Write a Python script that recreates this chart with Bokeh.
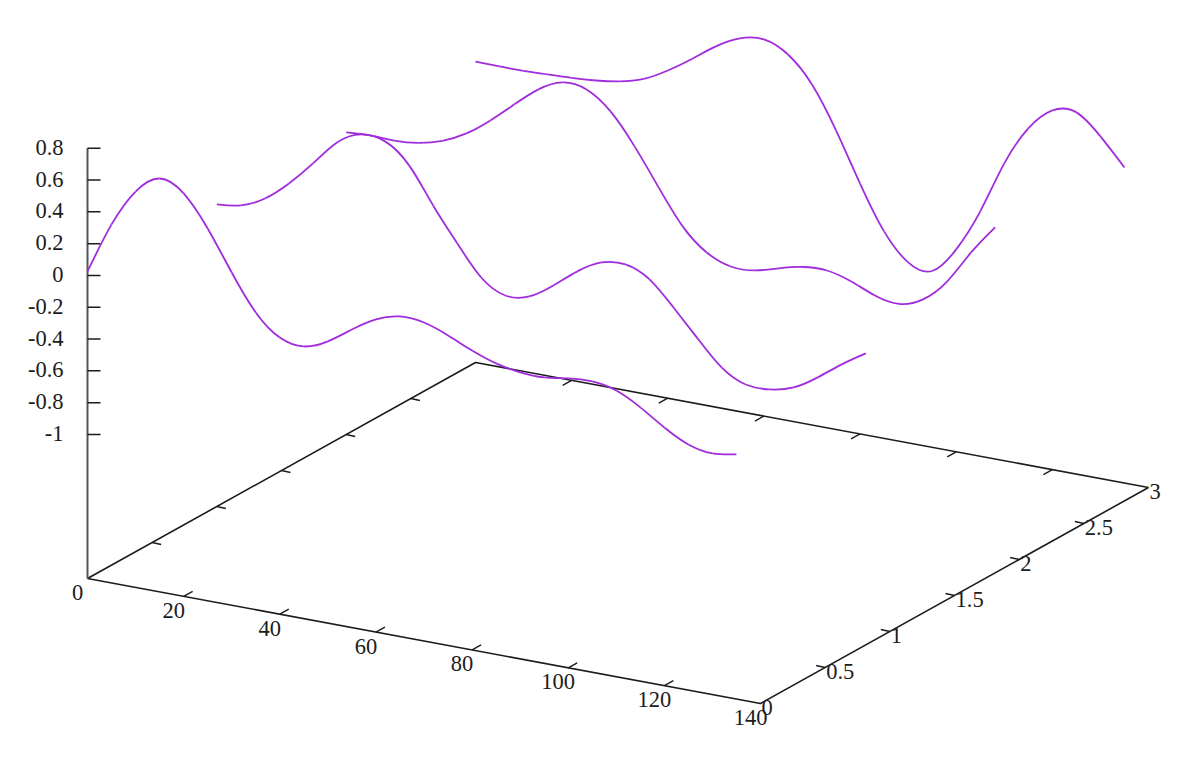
import numpy as np
from bokeh.plotting import figure
from bokeh.models import Range1d, ColumnDataSource
from bokeh.core.properties import value
from bokeh.embed import file_html
from bokeh.resources import INLINE

# ---- values ----
x_values = [0, 5, 10, 15, 20, 25, 30, 35, 40, 45, 50, 55, 60, 65, 70, 75, 80, 85, 90, 95,
            100, 105, 110, 115, 120, 125, 130, 135]
z_y0 = [0.025, 0.349, 0.584, 0.694, 0.629, 0.436, 0.187, -0.036, -0.166, -0.194, -0.134, -0.031,
        0.061, 0.107, 0.097, 0.044, -0.023, -0.076, -0.104, -0.108, -0.086, -0.077, -0.106, -0.184,
        -0.282, -0.361, -0.389, -0.367]
z_y1 = [-0.006, 0.016, 0.087, 0.210, 0.364, 0.524, 0.603, 0.587, 0.464, 0.240, 0.030, -0.157,
        -0.242, -0.220, -0.123, -0.006, 0.078, 0.094, 0.028, -0.121, -0.287, -0.442, -0.521, -0.524,
        -0.483, -0.392, -0.282, -0.185]
z_y2 = [-0.006, 0.003, -0.001, 0.012, 0.053, 0.128, 0.238, 0.367, 0.489, 0.561, 0.545, 0.435,
        0.243, 0.013, -0.204, -0.340, -0.400, -0.397, -0.356, -0.319, -0.313, -0.353, -0.414, -0.439,
        -0.382, -0.242, -0.031, 0.155]
z_y3 = [-0.013, -0.016, -0.016, -0.010, -0.004, 0.008, 0.030, 0.074, 0.155, 0.256, 0.363, 0.441,
        0.463, 0.396, 0.236, -0.025, -0.331, -0.604, -0.771, -0.797, -0.633, -0.366, -0.036, 0.212,
        0.353, 0.369, 0.246, 0.079]
series = [(0, z_y0), (1, z_y1), (2, z_y2), (3, z_y3)]

x_ticks = [0, 20, 40, 60, 80, 100, 120, 140]
x_labels = ["0", "20", "40", "60", "80", "100", "120", "140"]
y_ticks = [0, 0.5, 1, 1.5, 2, 2.5, 3]
y_labels = ["0", "0.5", "1", "1.5", "2", "2.5", "3"]
z_ticks = [0.8, 0.6, 0.4, 0.2, 0, -0.2, -0.4, -0.6, -0.8, -1]
z_labels = ["0.8", "0.6", "0.4", "0.2", "0", "-0.2", "-0.4", "-0.6", "-0.8", "-1"]

X_MAX, Y_MAX, Z_BASE, Z_TOP = 140, 3, -1.906, 0.8

# ---- gnuplot-like view: an affine projection on to the plot plane ----
OX, OY = 87.0, 578.0
XX, XY = 673.0 / 140, 125.0 / 140
YX, YY = 388.0 / 3, -72.0
ZY = -159.0


def proj(x, y, z=Z_BASE):
    return OX + x * XX + y * YX, OY + x * XY + y * YY + (z - Z_BASE) * ZY


p = figure(width=1180, height=756, output_backend="svg", toolbar_location=None,
           x_range=Range1d(0, 1180), y_range=Range1d(756, 0), min_border=0)
p.axis.visible = False
p.grid.visible = False
p.outline_line_color = None
p.background_fill_color = "white"

INK = "#1c1c1c"
FONT = value("Liberation Serif")
LABEL = "22.5px"
CURVE = "#a02cdc"

# base frame
frame = [proj(0, 0), proj(X_MAX, 0), proj(X_MAX, Y_MAX), proj(0, Y_MAX), proj(0, 0)]
p.line([q[0] for q in frame], [q[1] for q in frame], line_color=INK, line_width=1.6)

# z axis
p.line(*zip(proj(0, 0), proj(0, 0, Z_TOP)), line_color="#555555", line_width=2)
for z in z_ticks:
    a = proj(0, 0, z)
    p.line([a[0], a[0] + 13], [a[1], a[1]], line_color=INK, line_width=1.5)
p.text([proj(0, 0, z)[0] - 24 for z in z_ticks], [proj(0, 0, z)[1] - 1 for z in z_ticks], text=z_labels,
       text_font=FONT, text_font_size=LABEL, text_color=INK, text_align="right", text_baseline="middle")

# x ticks, on the front and back edges
for x in x_ticks[1:-1]:
    a = proj(x, 0)
    p.line([a[0], a[0] + 9], [a[1], a[1] - 5], line_color=INK, line_width=1.4)
    b = proj(x, Y_MAX)
    p.line([b[0], b[0] - 9], [b[1], b[1] + 5], line_color=INK, line_width=1.4)
p.text([proj(x, 0)[0] - 10 for x in x_ticks], [proj(x, 0)[1] + 14 for x in x_ticks], text=x_labels,
       text_font=FONT, text_font_size=LABEL, text_color=INK, text_align="center", text_baseline="middle")

# y ticks, on the right and left edges
for y in y_ticks[1:-1]:
    a = proj(X_MAX, y)
    p.line([a[0], a[0] - 9], [a[1], a[1] - 2], line_color=INK, line_width=1.4)
    b = proj(0, y)
    p.line([b[0], b[0] + 9], [b[1], b[1] + 2], line_color=INK, line_width=1.4)
p.text([proj(X_MAX, y)[0] + 1 for y in y_ticks], [proj(X_MAX, y)[1] + 4 for y in y_ticks], text=y_labels,
       text_font=FONT, text_font_size=LABEL, text_color=INK, text_align="left", text_baseline="middle")


def spline_slopes(v):
    """Slopes of the natural cubic spline through v (as gnuplot's csplines draws)."""
    n = len(v)
    m = 4.0 * np.eye(n) + np.eye(n, k=1) + np.eye(n, k=-1)
    m[0, 0] = m[-1, -1] = 2.0
    r = np.zeros(n)
    r[1:-1] = 3.0 * (v[2:] - v[:-2])
    r[0] = 3.0 * (v[1] - v[0])
    r[-1] = 3.0 * (v[-1] - v[-2])
    return np.linalg.solve(m, r)


# curves: smooth cubic segments through the read values
for y, zs in series:
    pts = np.array([proj(x, y, z) for x, z in zip(x_values, zs)])
    px, py = pts[:, 0], pts[:, 1]
    dx, dy = spline_slopes(px), spline_slopes(py)
    src = ColumnDataSource(dict(
        x0=px[:-1], y0=py[:-1], x1=px[1:], y1=py[1:],
        cx0=px[:-1] + dx[:-1] / 3, cy0=py[:-1] + dy[:-1] / 3,
        cx1=px[1:] - dx[1:] / 3, cy1=py[1:] - dy[1:] / 3,
    ))
    p.bezier("x0", "y0", "x1", "y1", "cx0", "cy0", "cx1", "cy1", source=src,
             line_color=CURVE, line_width=1.8)

open("out.html", "w").write(file_html(p, INLINE))
